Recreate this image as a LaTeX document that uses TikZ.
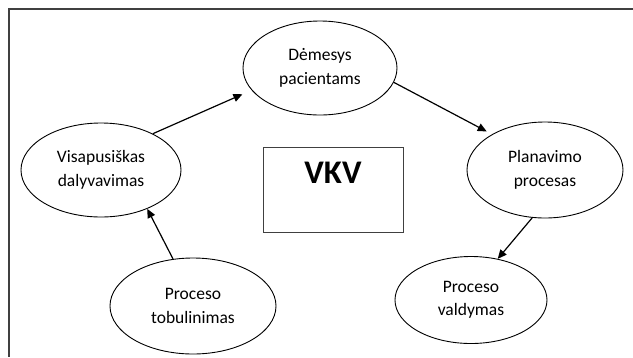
\documentclass[tikz,border=0pt]{standalone}
\usepackage{fontspec}
\setmainfont{Carlito}
\usetikzlibrary{shapes.geometric,arrows.meta}
\begin{document}
\begin{tikzpicture}[x=1pt,y=-1pt,
  ell/.style={draw,ellipse,line width=0.9pt,inner sep=0pt,align=center,
    font=\fontsize{17.5}{23.5}\selectfont},
  conn/.style={line width=1.2pt,-{Triangle[length=9pt,width=8pt]}},
  frameline/.style={line width=1.4pt,draw=black!75},
]
\useasboundingbox (0,0) rectangle (633,357);
\coordinate (fTL) at (9,9);
\coordinate (fTR) at (633,9);
\coordinate (fBL) at (9,357);
\draw[frameline] (fTR) -- (fTL) -- (fBL);

\node[ell,minimum width=154pt,minimum height=94pt] (dem) at (320,68) {Dėmesys\\pacientams};
\node[ell,minimum width=156pt,minimum height=96pt] (pla) at (545,170) {Planavimo\\procesas};
\node[ell,minimum width=160pt,minimum height=94pt] (vis) at (101,170) {Visapusiškas\\dalyvavimas};
\node[ell,minimum width=166pt,minimum height=96pt] (tob) at (193,306) {Proceso\\tobulinimas};
\node[ell,minimum width=152pt,minimum height=87pt] (val) at (471,300) {Proceso\\valdymas};

\node[draw=black!75,line width=1pt,minimum width=140pt,minimum height=85pt,inner sep=0pt] (box) at (333,189.5) {};
\node[font=\fontsize{33}{36}\selectfont\bfseries] (vkv) at (333,173) {VKV};

\draw[conn,shorten >=10pt] (vis.35) -- (dem.198);
\draw[conn,shorten >=6pt] (dem.-11) -- (pla.146);
\draw[conn] (pla.255) -- (val.57);
\draw[conn] (tob.113) -- (vis.-40);
\end{tikzpicture}
\end{document}
